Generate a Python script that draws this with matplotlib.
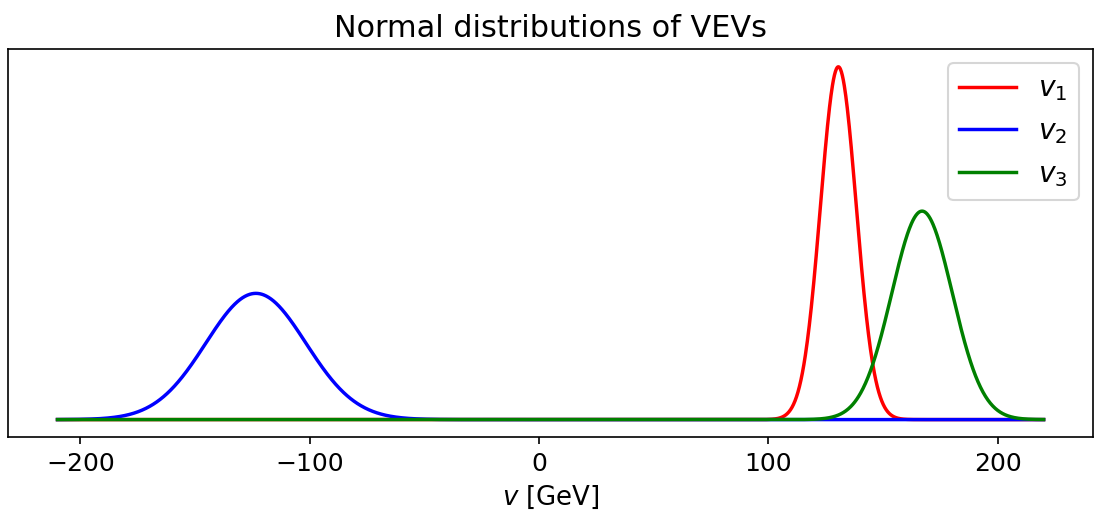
import numpy as np
import matplotlib
matplotlib.use("Agg")
import matplotlib.pyplot as plt

# Vacuum expectation values (GeV) and their spreads
labels = [r"$v_1$", r"$v_2$", r"$v_3$"]
means = [130.5, -123.5, 167.0]
sigmas = [7.8, 21.8, 13.2]
colors = ["red", "blue", "green"]
v_min, v_max = -210, 220

v = np.linspace(v_min, v_max, 2000)

fig, ax = plt.subplots(figsize=(1094 / 150, 523 / 150), dpi=150)
for label, mu, sigma, color in zip(labels, means, sigmas, colors):
    pdf = np.exp(-0.5 * ((v - mu) / sigma) ** 2) / (sigma * np.sqrt(2 * np.pi))
    ax.plot(v, pdf, color=color, label=label, linewidth=1.65)

ax.set_yticks([])
ax.set_title("Normal distributions of VEVs", fontsize=14.5)
ax.set_xlabel(r"$v$ [GeV]", fontsize=12.5)
ax.tick_params(axis="x", labelsize=12)
ax.legend(loc="upper right", fontsize=13.5)
fig.subplots_adjust(left=0.0075, right=0.999, top=0.906, bottom=0.164)
fig.savefig("out.png", dpi=150)
